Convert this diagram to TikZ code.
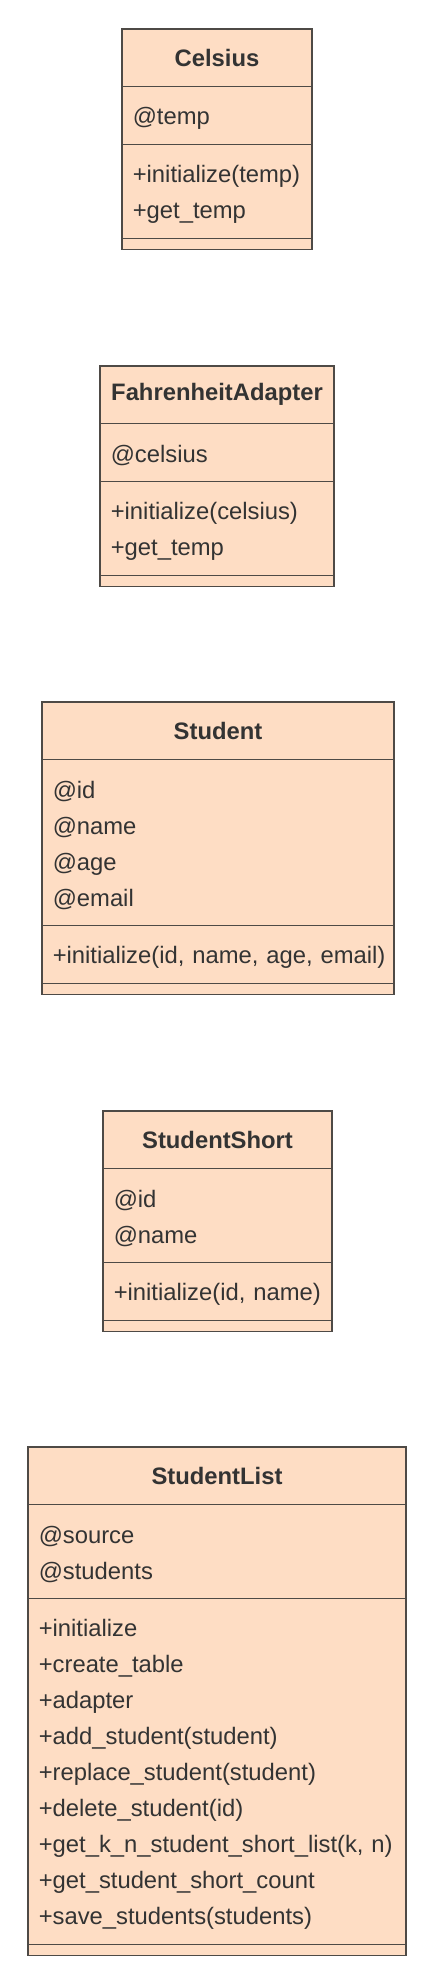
\documentclass[tikz,border=0pt]{standalone}
\usepackage{fontspec}
\setmainfont{Liberation Sans}
\usetikzlibrary{positioning}
\definecolor{umlfill}{RGB}{254,221,196}
\definecolor{umlline}{RGB}{78,74,70}
\definecolor{umltext}{RGB}{51,51,51}

\begin{document}
\begin{tikzpicture}[
  x=.5pt, y=-.5pt,
  font=\fontsize{11.9}{18}\selectfont, text=umltext,
  part/.style={draw=umlline,fill=umlfill,line width=.65pt,outer sep=0pt,
    inner xsep=5.4pt,inner ysep=0pt,text width=#1,align=left},
  members/.style={part=#1,execute at begin node={\rule{0pt}{11.3pt}}},
  title/.style={part=#1,align=center,minimum height=28.75pt,
    font=\fontsize{11.9}{18}\selectfont\bfseries},
  closer/.style={part=#1,minimum height=5.5pt}
]
\useasboundingbox (0,0) rectangle (434,1983);

% Celsius
\node[title=84.2pt,anchor=north] (celsius) at (217,29) {Celsius};
\node[members=84.2pt,minimum height=29pt,below=0pt of celsius] (celsiusAttr) {@temp};
\node[members=84.2pt,minimum height=47pt,below=0pt of celsiusAttr] (celsiusOps)
 {+initialize(temp)\\+get\_temp};
\node[closer=84.2pt,below=0pt of celsiusOps] (celsiusEnd) {};

% FahrenheitAdapter
\node[title=106.2pt,anchor=north] (adapter) at (217,366) {FahrenheitAdapter};
\node[members=106.2pt,minimum height=29pt,below=0pt of adapter] (adapterAttr) {@celsius};
\node[members=106.2pt,minimum height=47pt,below=0pt of adapterAttr] (adapterOps)
 {+initialize(celsius)\\+get\_temp};
\node[closer=106.2pt,below=0pt of adapterOps] (adapterEnd) {};

% Student
\node[title=165.2pt,anchor=north] (student) at (218,702) {Student};
\node[members=165.2pt,minimum height=83pt,below=0pt of student] (studentAttr)
 {@id\\@name\\@age\\@email};
\node[members=165.2pt,minimum height=29pt,below=0pt of studentAttr] (studentOps)
 {+initialize(id,~name,~age,~email)};
\node[closer=165.2pt,below=0pt of studentOps] (studentEnd) {};

% StudentShort
\node[title=103.7pt,anchor=north] (short) at (217.5,1111) {StudentShort};
\node[members=103.7pt,minimum height=47pt,below=0pt of short] (shortAttr)
 {@id\\@name};
\node[members=103.7pt,minimum height=29pt,below=0pt of shortAttr] (shortOps)
 {+initialize(id,~name)};
\node[closer=103.7pt,below=0pt of shortOps] (shortEnd) {};

% StudentList
\node[title=178.2pt,anchor=north] (list) at (217,1447) {StudentList};
\node[members=178.2pt,minimum height=47pt,below=0pt of list] (listAttr)
 {@source\\@students};
\node[members=178.2pt,minimum height=173pt,below=0pt of listAttr] (listOps)
 {+initialize\\+create\_table\\+adapter\\+add\_student(student)\\
  +replace\_student(student)\\+delete\_student(id)\\
  +get\_k\_n\_student\_short\_list(k,~n)\\+get\_student\_short\_count\\
  +save\_students(students)};
\node[closer=178.2pt,below=0pt of listOps] (listEnd) {};
\end{tikzpicture}
\end{document}
